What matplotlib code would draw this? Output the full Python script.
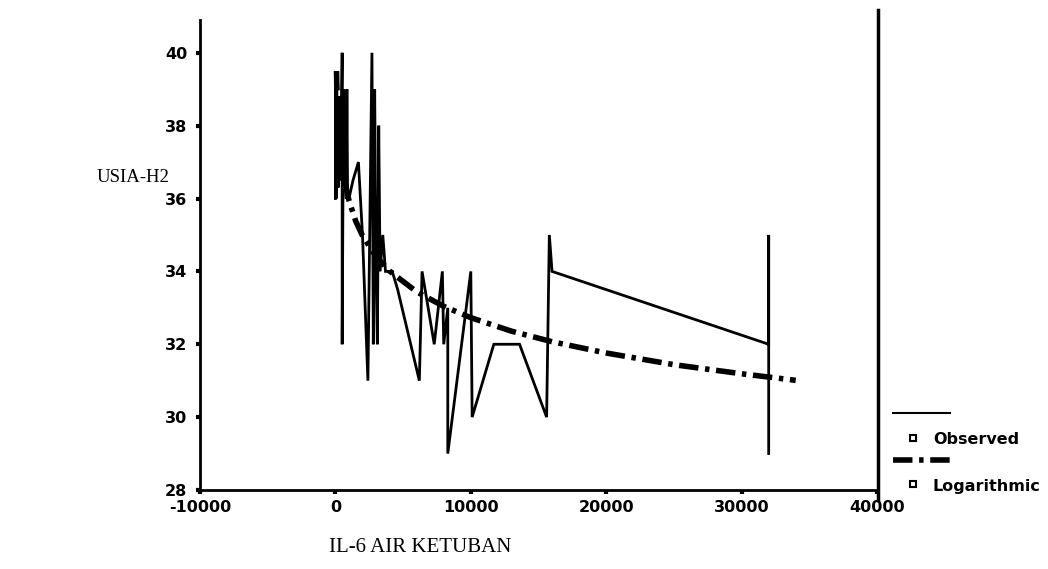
import matplotlib
matplotlib.use("Agg")
import matplotlib.pyplot as plt
from matplotlib.lines import Line2D

# Observed data (IL-6 air ketuban vs USIA-H2), sorted by x
obs_x = [0, 30, 60, 100, 130, 160, 200, 250, 300, 350, 400, 500, 500, 600, 650,
         700, 800, 850, 900, 1000, 1300, 1700, 2000, 2400, 2700, 2800, 2900,
         3000, 3100, 3200, 3300, 3500, 3700, 4200, 4600, 6200, 6400, 7300, 7600,
         7900, 8000, 8300, 8300, 10000, 10100, 11700, 13600, 15600, 15800,
         16000, 32000, 32000, 32000]
obs_y = [36, 39.5, 36, 39, 36.5, 38.5, 36.3, 38.8, 37, 38.3, 36.5, 40, 32, 39,
         36.2, 38.5, 36, 39, 36.2, 36, 36.5, 37, 35, 31, 40, 32, 39,
         34, 32, 38, 34, 35, 34, 34, 33.5, 31, 34, 32, 33,
         34, 32, 33, 29, 34, 30, 32, 32, 30, 35,
         34, 32, 35, 29]

# Logarithmic fit curve
fit_x = [80, 100, 200, 400, 700, 1000, 1500, 2000, 3000, 4000, 6000, 8000,
         10000, 13000, 16000, 20000, 25000, 30000, 34000]
fit_y = [39.5, 39.17, 38.20, 37.23, 36.45, 35.95, 35.38, 34.98, 34.41, 34.01,
         33.44, 33.04, 32.73, 32.36, 32.07, 31.76, 31.44, 31.19, 31.01]

xticks = [-10000, 0, 10000, 20000, 30000, 40000]
yticks = [28, 30, 32, 34, 36, 38, 40]

W, H = 1048, 569
fig = plt.figure(figsize=(W / 100, H / 100), dpi=100)
fig.patch.set_facecolor("white")

L, R, B, T = 200 / W, 877 / W, 1 - 490 / H, 1 - 20 / H
ax = fig.add_axes([L, B, R - L, T - B])

ax.plot(obs_x, obs_y, color="black", lw=2.0, solid_joinstyle="miter")
ax.plot(fit_x, fit_y, color="black", lw=4.0, linestyle=(0, (3.5, 1.2, 0.8, 1.2)),
        dash_capstyle="butt")

ax.set_xlim(-10000, 40000)
ax.set_ylim(28, 40.9)
ax.set_xticks(xticks)
ax.set_yticks(yticks)
ax.set_xticklabels([str(v) for v in xticks])
ax.set_yticklabels([str(v) for v in yticks])

for s in ["top", "right"]:
    ax.spines[s].set_visible(False)
for s in ["left", "bottom"]:
    ax.spines[s].set_linewidth(2.0)

ax.tick_params(axis="both", direction="out", length=3, width=3, colors="black")
ax.tick_params(axis="y", pad=6)
ax.tick_params(axis="x", pad=4)
for lab in ax.get_xticklabels() + ax.get_yticklabels():
    lab.set_fontfamily("DejaVu Sans")
    lab.set_fontweight("bold")
    lab.set_fontsize(11.5)

# right-hand frame line
fig.add_artist(Line2D([R + 1 / W, R + 1 / W], [1 - 500 / H, 1 - 10 / H],
                      transform=fig.transFigure, color="black", lw=2.5))

# axis titles
fig.text(133 / W, 1 - 177 / H, "USIA-H2", family="Liberation Serif",
         fontsize=13.5, ha="center", va="center")
fig.text(420 / W, 1 - 548 / H, "IL-6 AIR KETUBAN", family="Liberation Serif",
         fontsize=15, ha="center", va="center")

# legend (drawn manually to match the original layout)
fig.add_artist(Line2D([893 / W, 950 / W], [1 - 413 / H, 1 - 413 / H],
                      transform=fig.transFigure, color="black", lw=1.5))
fig.add_artist(Line2D([913 / W], [1 - 438 / H], transform=fig.transFigure,
                      marker="s", markersize=5, markerfacecolor="white",
                      markeredgecolor="black", markeredgewidth=1.5, lw=0))
fig.text(933 / W, 1 - 440 / H, "Observed", family="DejaVu Sans",
         fontweight="bold", fontsize=11.5, ha="left", va="center")
fig.add_artist(Line2D([893 / W, 950 / W], [1 - 460 / H, 1 - 460 / H],
                      transform=fig.transFigure, color="black", lw=4.0,
                      linestyle=(0, (3.5, 1.2, 0.8, 1.2))))
fig.add_artist(Line2D([913 / W], [1 - 484 / H], transform=fig.transFigure,
                      marker="s", markersize=5, markerfacecolor="white",
                      markeredgecolor="black", markeredgewidth=1.5, lw=0))
fig.text(933 / W, 1 - 487 / H, "Logarithmic", family="DejaVu Sans",
         fontweight="bold", fontsize=11.5, ha="left", va="center")

fig.savefig("out.png", dpi=100, facecolor="white")
